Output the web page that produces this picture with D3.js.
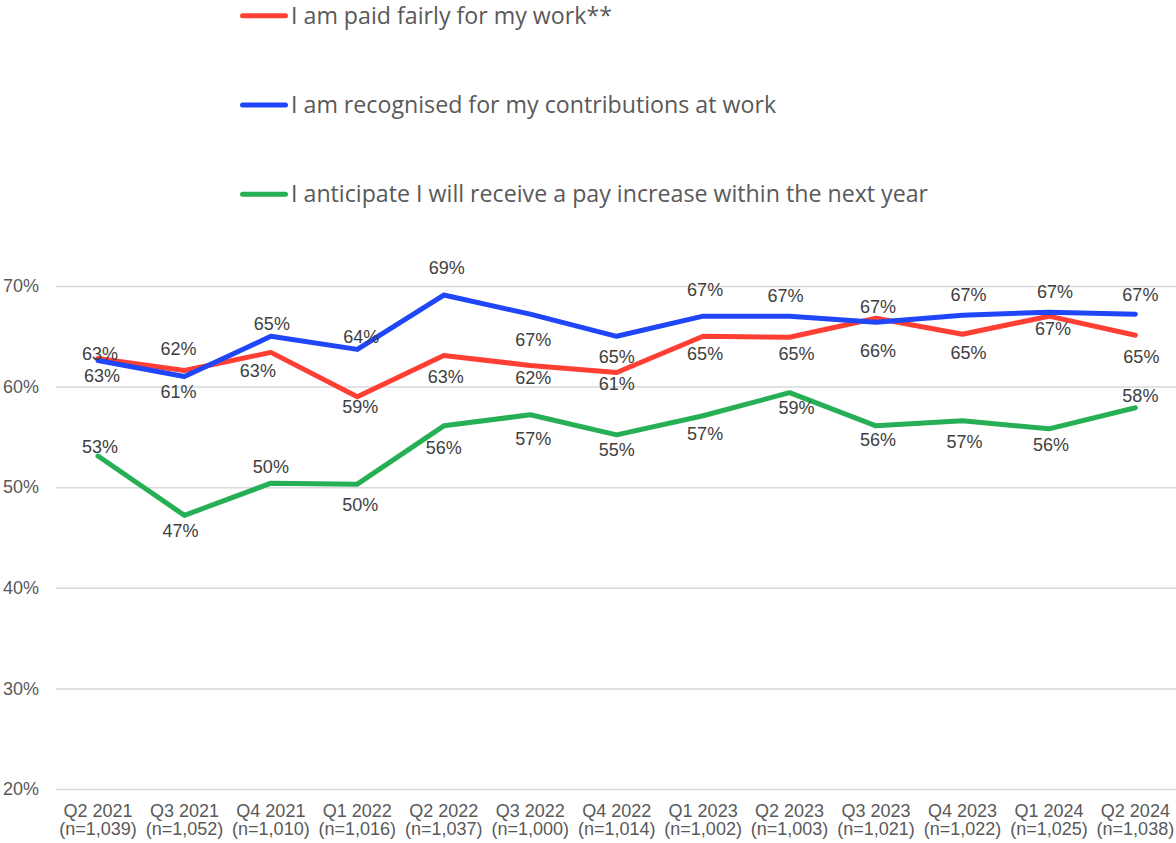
<!DOCTYPE html>
<html>
<head>
<meta charset="utf-8">
<script src="https://cdn.jsdelivr.net/npm/d3@7"></script>
<style>
  html, body { margin: 0; padding: 0; background: #ffffff; }
  svg { display: block; }
</style>
</head>
<body>
<svg id="chart" width="1176" height="843"></svg>
<script>
// Survey waves and sample sizes
const quarters = ["Q2 2021", "Q3 2021", "Q4 2021", "Q1 2022", "Q2 2022", "Q3 2022", "Q4 2022",
                  "Q1 2023", "Q2 2023", "Q3 2023", "Q4 2023", "Q1 2024", "Q2 2024"];
const sampleSizes = ["(n=1,039)", "(n=1,052)", "(n=1,010)", "(n=1,016)", "(n=1,037)", "(n=1,000)", "(n=1,014)",
                     "(n=1,002)", "(n=1,003)", "(n=1,021)", "(n=1,022)", "(n=1,025)", "(n=1,038)"];

// Share agreeing with each statement (%)
const paidFairly   = [62.8, 61.6, 63.4, 59.0, 63.1, 62.1, 61.4, 65.0, 64.9, 66.8, 65.2, 67.0, 65.1];
const recognised   = [62.6, 61.0, 65.0, 63.7, 69.1, 67.2, 65.0, 67.0, 67.0, 66.4, 67.1, 67.4, 67.2];
const payIncrease  = [53.1, 47.2, 50.4, 50.3, 56.1, 57.2, 55.2, 57.1, 59.4, 56.1, 56.6, 55.8, 57.9];

const yTicks = [20, 30, 40, 50, 60, 70];

const seriesNames = [
  "I am paid fairly for my work**",
  "I am recognised for my contributions at work",
  "I anticipate I will receive a pay increase within the next year"
];

// Data label placement (pixel nudges from each point: [dx, dy])
const paidLabelNudge = [[2,-5],[-6,-22],[-13,18],[3,10],[2,21],[3,12],[0,11],[2,17],[7,16],[2,-11],[6,18],[4,13],[6,21]];
const recogLabelNudge = [[4,15],[-6,15],[1,-13],[4,-13],[3,-27],[3,26],[0,20],[2,-26],[-4,-20],[2,28],[6,-20],[6,-20],[5,-19]];
const payLabelNudge = [[2,-9],[-4,15],[0,-16],[3,21],[0,22],[3,24],[0,15],[2,18],[7,15],[2,14],[2,21],[2,16],[5,-12]];

const series = [
  { name: seriesNames[0], values: paidFairly,  color: "#FF3F33", nudge: paidLabelNudge },
  { name: seriesNames[1], values: recognised,  color: "#1F46F8", nudge: recogLabelNudge },
  { name: seriesNames[2], values: payIncrease, color: "#27AF55", nudge: payLabelNudge }
];

const svg = d3.select("#chart");

const plotLeft = 56, plotRight = 1179;
const x = d3.scaleBand().domain(quarters).range([54.75, 1178.6]).padding(0);
const cx = q => x(q) + x.bandwidth() / 2;
const y = d3.scaleLinear().domain([20, 70]).range([789, 286]);

// Gridlines and y-axis labels
const yAxis = d3.axisLeft(y)
  .tickValues(yTicks)
  .tickSize(-(plotRight - plotLeft))
  .tickPadding(17)
  .tickFormat(d => d + "%");

const gy = svg.append("g")
  .attr("transform", `translate(${plotLeft},0)`)
  .call(yAxis);
gy.select(".domain").remove();
gy.selectAll(".tick line").attr("stroke", "#d9d9d9").attr("stroke-width", 1.5);
gy.selectAll(".tick text")
  .attr("fill", "#595959")
  .style("font-family", "'Liberation Sans', Arial, sans-serif")
  .style("font-size", "18px");

// Category axis with two-line labels
const xAxis = d3.axisBottom(x).tickSize(0).tickPadding(0);
const gx = svg.append("g")
  .attr("transform", "translate(0,789)")
  .call(xAxis);
gx.select(".domain").remove();
gx.selectAll(".tick text").each(function(d) {
  const t = d3.select(this);
  t.text(null)
    .attr("y", 0)
    .attr("dy", null)
    .attr("fill", "#595959")
    .style("font-family", "'Liberation Sans', Arial, sans-serif")
    .style("font-size", "18px");
  t.append("tspan").attr("x", 0).attr("y", 28.3).text(d);
  t.append("tspan").attr("x", 0).attr("y", 45.5).text(sampleSizes[quarters.indexOf(d)]);
});

// Lines
const line = d3.line()
  .x((d, i) => cx(quarters[i]))
  .y(d => y(d));

svg.append("g").selectAll("path")
  .data(series)
  .join("path")
  .attr("d", s => line(s.values))
  .attr("fill", "none")
  .attr("stroke", s => s.color)
  .attr("stroke-width", 5)
  .attr("stroke-linejoin", "round")
  .attr("stroke-linecap", "round");

// Data labels
const labels = svg.append("g")
  .style("font-family", "'Liberation Sans', Arial, sans-serif")
  .style("font-size", "18px")
  .attr("fill", "#404040")
  .attr("text-anchor", "middle");

series.forEach(s => {
  labels.append("g").selectAll("text")
    .data(s.values)
    .join("text")
    .attr("x", (d, i) => cx(quarters[i]) + s.nudge[i][0])
    .attr("y", (d, i) => y(d) + s.nudge[i][1])
    .attr("dy", "0.35em")
    .text(d => Math.round(d) + "%");
});

// Legend
const legend = svg.append("g");
const legendRowY = [15.7, 105, 194.3];
series.forEach((s, i) => {
  const row = legend.append("g").attr("transform", `translate(0,${legendRowY[i]})`);
  row.append("line")
    .attr("x1", 242.5).attr("x2", 285.5)
    .attr("y1", 0).attr("y2", 0)
    .attr("stroke", s.color)
    .attr("stroke-width", 5)
    .attr("stroke-linecap", "round");
  row.append("text")
    .attr("x", 291)
    .attr("y", 7.8)
    .attr("fill", "#595959")
    .style("font-family", "'Open Sans', sans-serif")
    .style("font-size", "23.2px")
    .text(s.name);
});
</script>
</body>
</html>
